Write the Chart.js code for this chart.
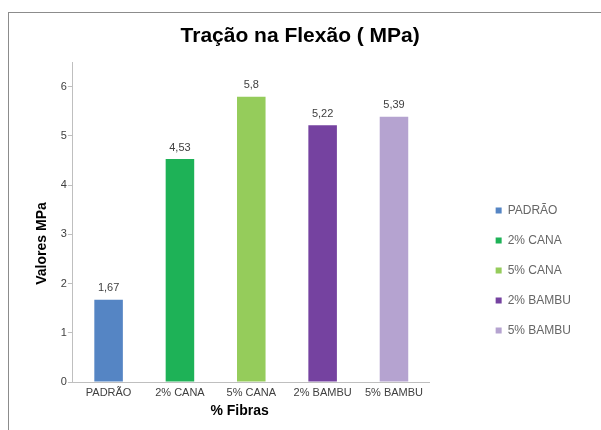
<!DOCTYPE html>
<html lang="pt">
<head>
    <meta charset="UTF-8">
    <title>Tração na Flexão</title>
    <script src="https://cdn.jsdelivr.net/npm/chart.js"></script>
    <style>
        body { margin: 0; background: #fff; }
        #frame {
            position: absolute; left: 8px; top: 12px;
            width: 600px; height: 420px;
            border-left: 1px solid #8c8c8c; border-top: 1px solid #8c8c8c;
        }
        #myChart { position: absolute; left: 0; top: 0; }
    </style>
</head>
<body>
    <div id="frame">
        <canvas id="myChart" width="592" height="417"></canvas>
    </div>
    <script>
    const categories = ['PADRÃO', '2% CANA', '5% CANA', '2% BAMBU', '5% BAMBU'];
    const values = [1.67, 4.53, 5.8, 5.22, 5.39];
    const barColors = ['#5585c4', '#1eb257', '#95cc5b', '#7542a0', '#b5a3d0'];
    const yTicks = [0, 1, 2, 3, 4, 5, 6];

    const fontFamily = 'Arial, "Liberation Sans", sans-serif';
    const toComma = v => String(v).replace('.', ',');

    // writes the value over each bar
    const valueLabels = {
        id: 'valueLabels',
        afterDatasetsDraw(chart) {
            const ctx = chart.ctx;
            const meta = chart.getDatasetMeta(0);
            ctx.save();
            ctx.font = '11px ' + fontFamily;
            ctx.fillStyle = '#404040';
            ctx.textAlign = 'center';
            ctx.textBaseline = 'bottom';
            meta.data.forEach((bar, i) => {
                ctx.fillText(toComma(values[i]), bar.x, bar.y - 6);
            });
            ctx.restore();
        }
    };

    const data = {
        labels: categories,
        datasets: [{
            label: 'Tração na Flexão',
            data: values,
            backgroundColor: barColors,
            borderWidth: 0,
            categoryPercentage: 1,
            barPercentage: 0.4
        }]
    };

    const config = {
        type: 'bar',
        data: data,
        plugins: [valueLabels],
        options: {
            responsive: false,
            animation: false,
            layout: { padding: { left: 22, right: 20, top: 0, bottom: 10 } },
            plugins: {
                title: {
                    display: true,
                    // two trailing spaces nudge it left a little
                    text: 'Tração na Flexão ( MPa)  ',
                    color: '#000',
                    font: { family: fontFamily, size: 21, weight: 'bold' },
                    padding: { top: 11, bottom: 13 }
                },
                legend: {
                    position: 'right',
                    align: 'start',
                    maxWidth: 160,
                    title: { display: true, text: '', padding: { top: 159, bottom: 0 } },
                    labels: {
                        boxWidth: 6,
                        boxHeight: 6,
                        padding: 18,
                        color: '#404040',
                        font: { family: fontFamily, size: 12 },
                        generateLabels: chart => categories.map((c, i) => ({
                            text: c,
                            fillStyle: barColors[i],
                            strokeStyle: barColors[i],
                            lineWidth: 0,
                            hidden: false,
                            index: i
                        }))
                    },
                    onClick: () => {}
                },
                tooltip: { enabled: false }
            },
            scales: {
                x: {
                    grid: { display: false, drawTicks: false },
                    border: { color: '#bfbfbf', width: 1 },
                    ticks: {
                        color: '#404040',
                        padding: 4,
                        font: { family: fontFamily, size: 11 }
                    },
                    title: {
                        display: true,
                        // trailing spaces pull the title a bit left, as in the original
                        text: '% Fibras      ',
                        color: '#000',
                        font: { family: fontFamily, size: 14, weight: 'bold' },
                        padding: { top: 0, bottom: 0 }
                    }
                },
                y: {
                    min: 0,
                    max: 6.5,
                    afterBuildTicks: scale => { scale.ticks = yTicks.map(v => ({ value: v })); },
                    grid: { drawOnChartArea: false, tickLength: 5, color: '#bfbfbf' },
                    border: { color: '#bfbfbf', width: 1 },
                    ticks: {
                        color: '#404040',
                        padding: 1,
                        font: { family: fontFamily, size: 11 }
                    },
                    title: {
                        display: true,
                        text: 'Valores MPa           ',
                        color: '#000',
                        font: { family: fontFamily, size: 14, weight: 'bold' },
                        padding: { top: 3, bottom: 9 }
                    }
                },
                // empty axis that only keeps the gap before the legend
                gap: {
                    type: 'linear',
                    position: 'right',
                    display: true,
                    grid: { display: false },
                    border: { display: false },
                    ticks: { display: false },
                    afterFit: scale => { scale.width = 48; }
                }
            }
        }
    };

    const myChart = new Chart(document.getElementById('myChart'), config);
    </script>
</body>
</html>
